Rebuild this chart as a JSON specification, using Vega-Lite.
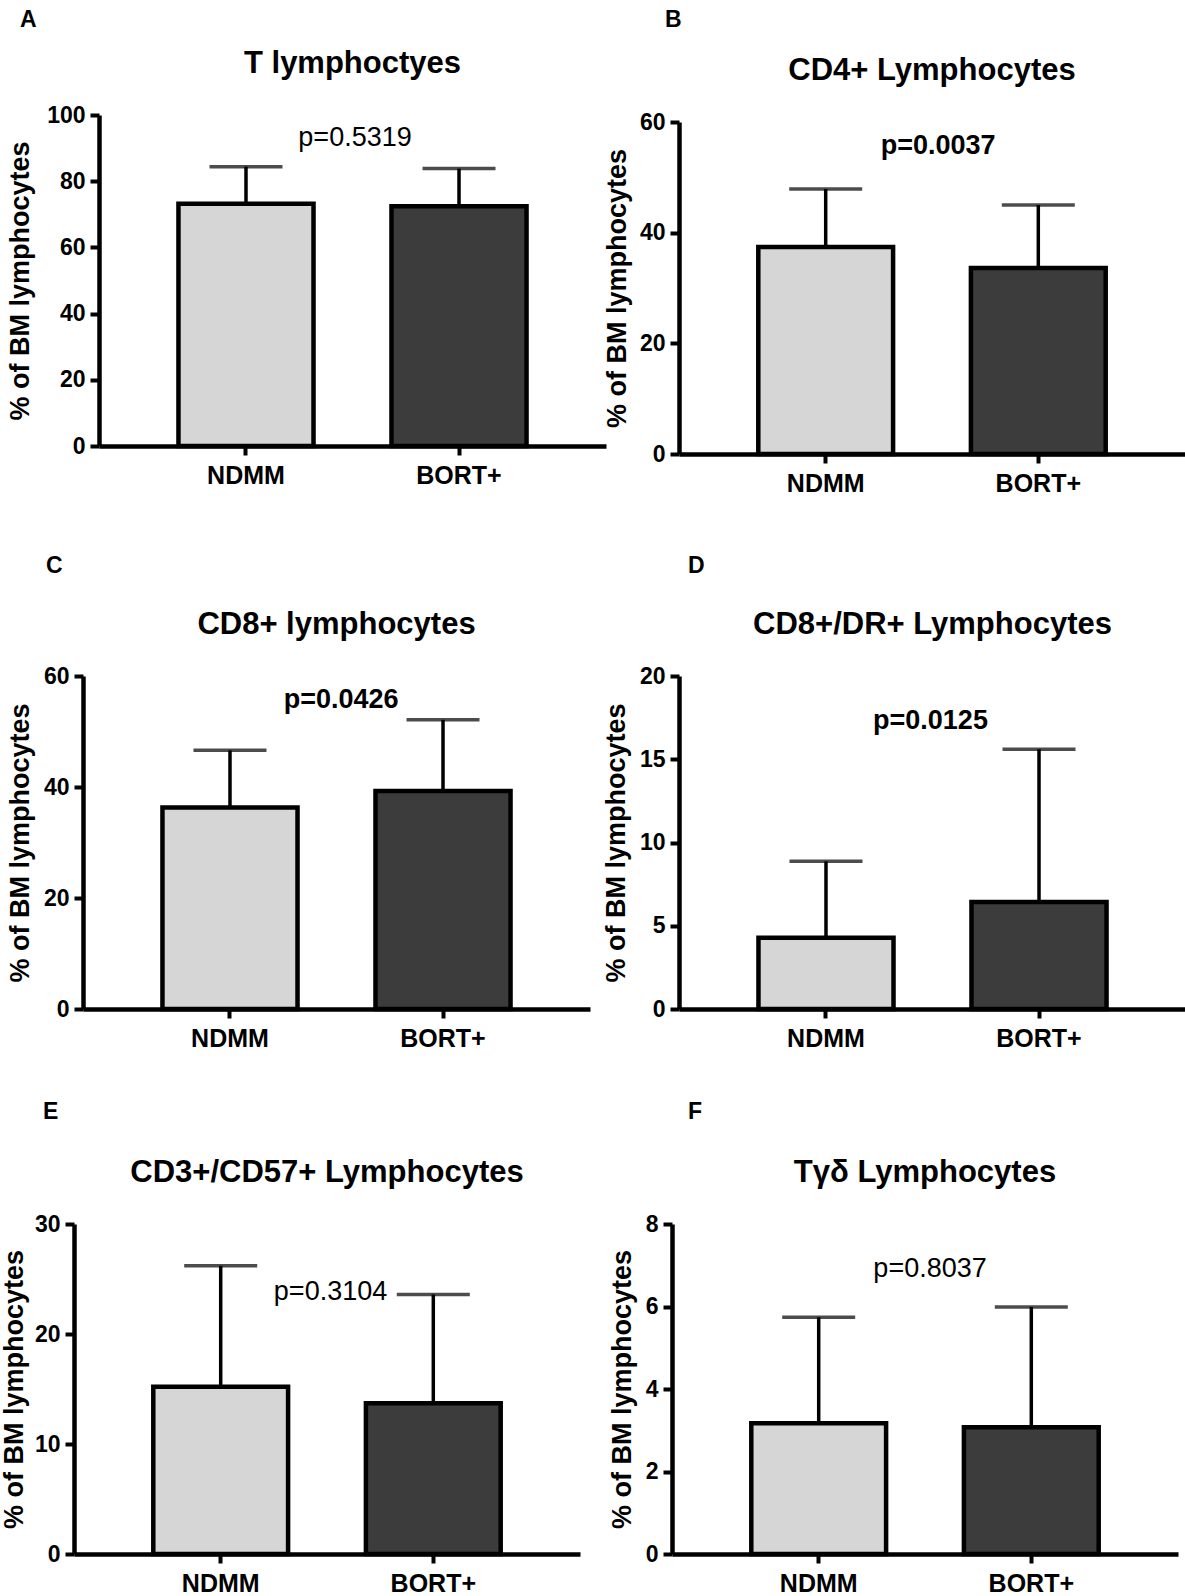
{
  "$schema": "https://vega.github.io/schema/vega-lite/v6.json",
  "padding": {"left": 0, "top": 9, "right": 0, "bottom": 0},
  "background": "white",
  "config": {
    "font": "Liberation Sans",
    "view": {"stroke": null},
    "title": {"font": "Liberation Sans", "fontWeight": "bold", "color": "black"},
    "axis": {"domainColor": "black", "tickColor": "black", "labelColor": "black", "titleColor": "black", "grid": false, "domainWidth": 4.5, "tickWidth": 4, "tickSize": 9, "labelFontWeight": "bold", "titleFontWeight": "bold"},
    "axisX": {"labelFontSize": 25, "labelPadding": 8, "labelAngle": 0, "title": null},
    "axisY": {"labelFontSize": 23, "labelPadding": 5, "titleFontSize": 27, "labelFlush": false}
  },
  "datasets": {
    "bars": [
      {"panel": "A", "group": "NDMM", "mean": 73.2, "upper": 84.4},
      {"panel": "A", "group": "BORT+", "mean": 72.4, "upper": 83.8},
      {"panel": "B", "group": "NDMM", "mean": 37.4, "upper": 47.9},
      {"panel": "B", "group": "BORT+", "mean": 33.6, "upper": 45.0},
      {"panel": "C", "group": "NDMM", "mean": 36.3, "upper": 46.6},
      {"panel": "C", "group": "BORT+", "mean": 39.3, "upper": 52.1},
      {"panel": "D", "group": "NDMM", "mean": 4.28, "upper": 8.87},
      {"panel": "D", "group": "BORT+", "mean": 6.42, "upper": 15.6},
      {"panel": "E", "group": "NDMM", "mean": 15.2, "upper": 26.2},
      {"panel": "E", "group": "BORT+", "mean": 13.7, "upper": 23.6},
      {"panel": "F", "group": "NDMM", "mean": 3.17, "upper": 5.74},
      {"panel": "F", "group": "BORT+", "mean": 3.07, "upper": 5.99}
    ],
    "pvals": [
      {"panel": "A", "label": "p=0.5319", "xpos": 0.505, "ypos": 93.2},
      {"panel": "B", "label": "p=0.0037", "xpos": 0.512, "ypos": 55.7},
      {"panel": "C", "label": "p=0.0426", "xpos": 0.509, "ypos": 55.6},
      {"panel": "D", "label": "p=0.0125", "xpos": 0.496, "ypos": 17.3},
      {"panel": "E", "label": "p=0.3104", "xpos": 0.507, "ypos": 23.8},
      {"panel": "F", "label": "p=0.8037", "xpos": 0.51, "ypos": 6.9}
    ],
    "empty": []
  },
  "columns": 1,
  "align": "none",
  "spacing": 59,
  "concat": [
    {
      "columns": 4, "align": "none", "spacing": -6,
      "concat": [
        {"width": 12, "height": 1, "data": {"name": "empty"}, "mark": "rect", "encoding": {}, "view": {"fill": "white", "fillOpacity": 0, "stroke": null}},
        {
          "title": {"text": "A", "anchor": "start", "frame": "bounds", "dx": 14, "offset": 15, "fontSize": 23},
          "spacing": 0,
          "vconcat": [
            {"width": 1, "height": 1, "data": {"name": "empty"}, "mark": "rect", "encoding": {}, "view": {"fill": "white", "fillOpacity": 0, "stroke": null}},
            {
            "width": 507, "height": 331,
            "title": {"text": "T lymphoctyes", "fontSize": 31, "offset": 24},
            "layer": [
              {"layer": [
                {"data": {"name": "bars"}, "transform": [{"filter": "datum.panel === 'A'"}],
                 "mark": {"type": "bar", "stroke": "black", "strokeWidth": 4.5},
                 "encoding": {
                   "x": {"field": "group", "type": "nominal", "sort": ["NDMM", "BORT+"], "scale": {"paddingInner": 0.366, "paddingOuter": 0.373}},
                   "y": {"field": "mean", "type": "quantitative", "title": "% of BM lymphocytes", "scale": {"domain": [0, 100], "nice": false}, "axis": {"values": [0, 20, 40, 60, 80, 100], "minExtent": 53, "maxExtent": 53, "titlePadding": 12}},
                   "color": {"field": "group", "type": "nominal", "scale": {"domain": ["NDMM", "BORT+"], "range": ["#d6d6d6", "#3c3c3c"]}, "legend": null}
                 }},
                {"data": {"name": "bars"}, "transform": [{"filter": "datum.panel === 'A'"}],
                 "mark": {"type": "rule", "color": "black", "strokeWidth": 3.5},
                 "encoding": {
                   "x": {"field": "group", "type": "nominal", "sort": ["NDMM", "BORT+"]},
                   "y": {"field": "mean", "type": "quantitative", "title": "% of BM lymphocytes"},
                   "y2": {"field": "upper"}
                 }},
                {"data": {"name": "bars"}, "transform": [{"filter": "datum.panel === 'A'"}],
                 "mark": {"type": "tick", "color": "black", "size": 73, "thickness": 3.5},
                 "encoding": {
                   "x": {"field": "group", "type": "nominal", "sort": ["NDMM", "BORT+"]},
                   "y": {"field": "upper", "type": "quantitative", "title": "% of BM lymphocytes"}
                 }}
              ]},
              {"data": {"name": "pvals"}, "transform": [{"filter": "datum.panel === 'A'"}],
               "mark": {"type": "text", "fontSize": 27, "fontWeight": "normal", "color": "black", "baseline": "middle"},
               "encoding": {
                 "x": {"field": "xpos", "type": "quantitative", "scale": {"domain": [0, 1]}, "axis": null},
                 "y": {"field": "ypos", "type": "quantitative", "title": "% of BM lymphocytes"},
                 "text": {"field": "label"}
               }}
            ],
            "resolve": {"scale": {"x": "independent"}, "axis": {"x": "independent"}}
          }]
        },
        {"width": 9, "height": 1, "data": {"name": "empty"}, "mark": "rect", "encoding": {}, "view": {"fill": "white", "fillOpacity": 0, "stroke": null}},
        {
          "title": {"text": "B", "anchor": "start", "frame": "bounds", "dx": 62, "offset": 15, "fontSize": 23},
          "spacing": 0,
          "vconcat": [
            {"width": 1, "height": 8, "data": {"name": "empty"}, "mark": "rect", "encoding": {}, "view": {"fill": "white", "fillOpacity": 0, "stroke": null}},
            {
            "width": 506, "height": 332,
            "title": {"text": "CD4+ Lymphocytes", "fontSize": 31, "offset": 24},
            "layer": [
              {"layer": [
                {"data": {"name": "bars"}, "transform": [{"filter": "datum.panel === 'B'"}],
                 "mark": {"type": "bar", "stroke": "black", "strokeWidth": 4.5},
                 "encoding": {
                   "x": {"field": "group", "type": "nominal", "sort": ["NDMM", "BORT+"], "scale": {"paddingInner": 0.366, "paddingOuter": 0.373}},
                   "y": {"field": "mean", "type": "quantitative", "title": "% of BM lymphocytes", "scale": {"domain": [0, 60], "nice": false}, "axis": {"values": [0, 20, 40, 60], "minExtent": 40, "maxExtent": 40, "titlePadding": 8}},
                   "color": {"field": "group", "type": "nominal", "scale": {"domain": ["NDMM", "BORT+"], "range": ["#b5b5b5", "#3c3c3c"]}, "legend": null}
                 }},
                {"data": {"name": "bars"}, "transform": [{"filter": "datum.panel === 'B'"}],
                 "mark": {"type": "rule", "color": "black", "strokeWidth": 3.5},
                 "encoding": {
                   "x": {"field": "group", "type": "nominal", "sort": ["NDMM", "BORT+"]},
                   "y": {"field": "mean", "type": "quantitative", "title": "% of BM lymphocytes"},
                   "y2": {"field": "upper"}
                 }},
                {"data": {"name": "bars"}, "transform": [{"filter": "datum.panel === 'B'"}],
                 "mark": {"type": "tick", "color": "black", "size": 73, "thickness": 3.5},
                 "encoding": {
                   "x": {"field": "group", "type": "nominal", "sort": ["NDMM", "BORT+"]},
                   "y": {"field": "upper", "type": "quantitative", "title": "% of BM lymphocytes"}
                 }}
              ]},
              {"data": {"name": "pvals"}, "transform": [{"filter": "datum.panel === 'B'"}],
               "mark": {"type": "text", "fontSize": 27, "fontWeight": "bold", "color": "black", "baseline": "middle"},
               "encoding": {
                 "x": {"field": "xpos", "type": "quantitative", "scale": {"domain": [0, 1]}, "axis": null},
                 "y": {"field": "ypos", "type": "quantitative", "title": "% of BM lymphocytes"},
                 "text": {"field": "label"}
               }}
            ],
            "resolve": {"scale": {"x": "independent"}, "axis": {"x": "independent"}}
          }]
        }
      ]
    },
    {
      "columns": 1, "align": "none", "spacing": 50,
      "concat": [
        {
          "columns": 4, "align": "none", "spacing": -6,
          "concat": [
            {"width": 12, "height": 1, "data": {"name": "empty"}, "mark": "rect", "encoding": {}, "view": {"fill": "white", "fillOpacity": 0, "stroke": null}},
            {
              "title": {"text": "C", "anchor": "start", "frame": "bounds", "dx": 40, "offset": 31, "fontSize": 23},
              "vconcat": [{
                "width": 507, "height": 333,
                "title": {"text": "CD8+ lymphocytes", "fontSize": 31, "offset": 24},
                "layer": [
                  {"layer": [
                    {"data": {"name": "bars"}, "transform": [{"filter": "datum.panel === 'C'"}],
                     "mark": {"type": "bar", "stroke": "black", "strokeWidth": 4.5},
                     "encoding": {
                       "x": {"field": "group", "type": "nominal", "sort": ["NDMM", "BORT+"], "scale": {"paddingInner": 0.366, "paddingOuter": 0.373}},
                       "y": {"field": "mean", "type": "quantitative", "title": "% of BM lymphocytes", "scale": {"domain": [0, 60], "nice": false}, "axis": {"values": [0, 20, 40, 60], "minExtent": 40, "maxExtent": 40, "titlePadding": 9}},
                       "color": {"field": "group", "type": "nominal", "scale": {"domain": ["NDMM", "BORT+"], "range": ["#d6d6d6", "#3c3c3c"]}, "legend": null}
                     }},
                    {"data": {"name": "bars"}, "transform": [{"filter": "datum.panel === 'C'"}],
                     "mark": {"type": "rule", "color": "black", "strokeWidth": 3.5},
                     "encoding": {
                       "x": {"field": "group", "type": "nominal", "sort": ["NDMM", "BORT+"]},
                       "y": {"field": "mean", "type": "quantitative", "title": "% of BM lymphocytes"},
                       "y2": {"field": "upper"}
                     }},
                    {"data": {"name": "bars"}, "transform": [{"filter": "datum.panel === 'C'"}],
                     "mark": {"type": "tick", "color": "black", "size": 73, "thickness": 3.5},
                     "encoding": {
                       "x": {"field": "group", "type": "nominal", "sort": ["NDMM", "BORT+"]},
                       "y": {"field": "upper", "type": "quantitative", "title": "% of BM lymphocytes"}
                     }}
                  ]},
                  {"data": {"name": "pvals"}, "transform": [{"filter": "datum.panel === 'C'"}],
                   "mark": {"type": "text", "fontSize": 27, "fontWeight": "bold", "color": "black", "baseline": "middle"},
                   "encoding": {
                     "x": {"field": "xpos", "type": "quantitative", "scale": {"domain": [0, 1]}, "axis": null},
                     "y": {"field": "ypos", "type": "quantitative", "title": "% of BM lymphocytes"},
                     "text": {"field": "label"}
                   }}
                ],
                "resolve": {"scale": {"x": "independent"}, "axis": {"x": "independent"}}
              }]
            },
            {"width": 24, "height": 1, "data": {"name": "empty"}, "mark": "rect", "encoding": {}, "view": {"fill": "white", "fillOpacity": 0, "stroke": null}},
            {
              "title": {"text": "D", "anchor": "start", "frame": "bounds", "dx": 86, "offset": 31, "fontSize": 23},
              "vconcat": [{
                "width": 507, "height": 333,
                "title": {"text": "CD8+/DR+ Lymphocytes", "fontSize": 31, "offset": 24},
                "layer": [
                  {"layer": [
                    {"data": {"name": "bars"}, "transform": [{"filter": "datum.panel === 'D'"}],
                     "mark": {"type": "bar", "stroke": "black", "strokeWidth": 4.5},
                     "encoding": {
                       "x": {"field": "group", "type": "nominal", "sort": ["NDMM", "BORT+"], "scale": {"paddingInner": 0.366, "paddingOuter": 0.373}},
                       "y": {"field": "mean", "type": "quantitative", "title": "% of BM lymphocytes", "scale": {"domain": [0, 20], "nice": false}, "axis": {"values": [0, 5, 10, 15, 20], "minExtent": 40, "maxExtent": 40, "titlePadding": 9}},
                       "color": {"field": "group", "type": "nominal", "scale": {"domain": ["NDMM", "BORT+"], "range": ["#bcbcbc", "#3c3c3c"]}, "legend": null}
                     }},
                    {"data": {"name": "bars"}, "transform": [{"filter": "datum.panel === 'D'"}],
                     "mark": {"type": "rule", "color": "black", "strokeWidth": 3.5},
                     "encoding": {
                       "x": {"field": "group", "type": "nominal", "sort": ["NDMM", "BORT+"]},
                       "y": {"field": "mean", "type": "quantitative", "title": "% of BM lymphocytes"},
                       "y2": {"field": "upper"}
                     }},
                    {"data": {"name": "bars"}, "transform": [{"filter": "datum.panel === 'D'"}],
                     "mark": {"type": "tick", "color": "black", "size": 73, "thickness": 3.5},
                     "encoding": {
                       "x": {"field": "group", "type": "nominal", "sort": ["NDMM", "BORT+"]},
                       "y": {"field": "upper", "type": "quantitative", "title": "% of BM lymphocytes"}
                     }}
                  ]},
                  {"data": {"name": "pvals"}, "transform": [{"filter": "datum.panel === 'D'"}],
                   "mark": {"type": "text", "fontSize": 27, "fontWeight": "bold", "color": "black", "baseline": "middle"},
                   "encoding": {
                     "x": {"field": "xpos", "type": "quantitative", "scale": {"domain": [0, 1]}, "axis": null},
                     "y": {"field": "ypos", "type": "quantitative", "title": "% of BM lymphocytes"},
                     "text": {"field": "label"}
                   }}
                ],
                "resolve": {"scale": {"x": "independent"}, "axis": {"x": "independent"}}
              }]
            }
          ]
        },
        {
          "columns": 4, "align": "none", "spacing": -6,
          "concat": [
            {"width": 6, "height": 1, "data": {"name": "empty"}, "mark": "rect", "encoding": {}, "view": {"fill": "white", "fillOpacity": 0, "stroke": null}},
            {
              "title": {"text": "E", "anchor": "start", "frame": "bounds", "dx": 43, "offset": 33, "fontSize": 23},
              "vconcat": [{
                "width": 506, "height": 330,
                "title": {"text": "CD3+/CD57+ Lymphocytes", "fontSize": 31, "offset": 24},
                "layer": [
                  {"layer": [
                    {"data": {"name": "bars"}, "transform": [{"filter": "datum.panel === 'E'"}],
                     "mark": {"type": "bar", "stroke": "black", "strokeWidth": 4.5},
                     "encoding": {
                       "x": {"field": "group", "type": "nominal", "sort": ["NDMM", "BORT+"], "scale": {"paddingInner": 0.366, "paddingOuter": 0.373}},
                       "y": {"field": "mean", "type": "quantitative", "title": "% of BM lymphocytes", "scale": {"domain": [0, 30], "nice": false}, "axis": {"values": [0, 10, 20, 30], "minExtent": 40, "maxExtent": 40, "titlePadding": 6}},
                       "color": {"field": "group", "type": "nominal", "scale": {"domain": ["NDMM", "BORT+"], "range": ["#d6d6d6", "#3c3c3c"]}, "legend": null}
                     }},
                    {"data": {"name": "bars"}, "transform": [{"filter": "datum.panel === 'E'"}],
                     "mark": {"type": "rule", "color": "black", "strokeWidth": 3.5},
                     "encoding": {
                       "x": {"field": "group", "type": "nominal", "sort": ["NDMM", "BORT+"]},
                       "y": {"field": "mean", "type": "quantitative", "title": "% of BM lymphocytes"},
                       "y2": {"field": "upper"}
                     }},
                    {"data": {"name": "bars"}, "transform": [{"filter": "datum.panel === 'E'"}],
                     "mark": {"type": "tick", "color": "black", "size": 73, "thickness": 3.5},
                     "encoding": {
                       "x": {"field": "group", "type": "nominal", "sort": ["NDMM", "BORT+"]},
                       "y": {"field": "upper", "type": "quantitative", "title": "% of BM lymphocytes"}
                     }}
                  ]},
                  {"data": {"name": "pvals"}, "transform": [{"filter": "datum.panel === 'E'"}],
                   "mark": {"type": "text", "fontSize": 27, "fontWeight": "normal", "color": "black", "baseline": "middle"},
                   "encoding": {
                     "x": {"field": "xpos", "type": "quantitative", "scale": {"domain": [0, 1]}, "axis": null},
                     "y": {"field": "ypos", "type": "quantitative", "title": "% of BM lymphocytes"},
                     "text": {"field": "label"}
                   }}
                ],
                "resolve": {"scale": {"x": "independent"}, "axis": {"x": "independent"}}
              }]
            },
            {"width": 40, "height": 1, "data": {"name": "empty"}, "mark": "rect", "encoding": {}, "view": {"fill": "white", "fillOpacity": 0, "stroke": null}},
            {
              "title": {"text": "F", "anchor": "start", "frame": "bounds", "dx": 80, "offset": 33, "fontSize": 23},
              "vconcat": [{
                "width": 506, "height": 330,
                "title": {"text": "Tγδ Lymphocytes", "fontSize": 31, "offset": 24},
                "layer": [
                  {"layer": [
                    {"data": {"name": "bars"}, "transform": [{"filter": "datum.panel === 'F'"}],
                     "mark": {"type": "bar", "stroke": "black", "strokeWidth": 4.5},
                     "encoding": {
                       "x": {"field": "group", "type": "nominal", "sort": ["NDMM", "BORT+"], "scale": {"paddingInner": 0.366, "paddingOuter": 0.373}},
                       "y": {"field": "mean", "type": "quantitative", "title": "% of BM lymphocytes", "scale": {"domain": [0, 8], "nice": false}, "axis": {"values": [0, 2, 4, 6, 8], "minExtent": 27, "maxExtent": 27, "titlePadding": 9}},
                       "color": {"field": "group", "type": "nominal", "scale": {"domain": ["NDMM", "BORT+"], "range": ["#d6d6d6", "#3c3c3c"]}, "legend": null}
                     }},
                    {"data": {"name": "bars"}, "transform": [{"filter": "datum.panel === 'F'"}],
                     "mark": {"type": "rule", "color": "black", "strokeWidth": 3.5},
                     "encoding": {
                       "x": {"field": "group", "type": "nominal", "sort": ["NDMM", "BORT+"]},
                       "y": {"field": "mean", "type": "quantitative", "title": "% of BM lymphocytes"},
                       "y2": {"field": "upper"}
                     }},
                    {"data": {"name": "bars"}, "transform": [{"filter": "datum.panel === 'F'"}],
                     "mark": {"type": "tick", "color": "black", "size": 73, "thickness": 3.5},
                     "encoding": {
                       "x": {"field": "group", "type": "nominal", "sort": ["NDMM", "BORT+"]},
                       "y": {"field": "upper", "type": "quantitative", "title": "% of BM lymphocytes"}
                     }}
                  ]},
                  {"data": {"name": "pvals"}, "transform": [{"filter": "datum.panel === 'F'"}],
                   "mark": {"type": "text", "fontSize": 27, "fontWeight": "normal", "color": "black", "baseline": "middle"},
                   "encoding": {
                     "x": {"field": "xpos", "type": "quantitative", "scale": {"domain": [0, 1]}, "axis": null},
                     "y": {"field": "ypos", "type": "quantitative", "title": "% of BM lymphocytes"},
                     "text": {"field": "label"}
                   }}
                ],
                "resolve": {"scale": {"x": "independent"}, "axis": {"x": "independent"}}
              }]
            }
          ]
        }
      ]
    }
  ]
}
